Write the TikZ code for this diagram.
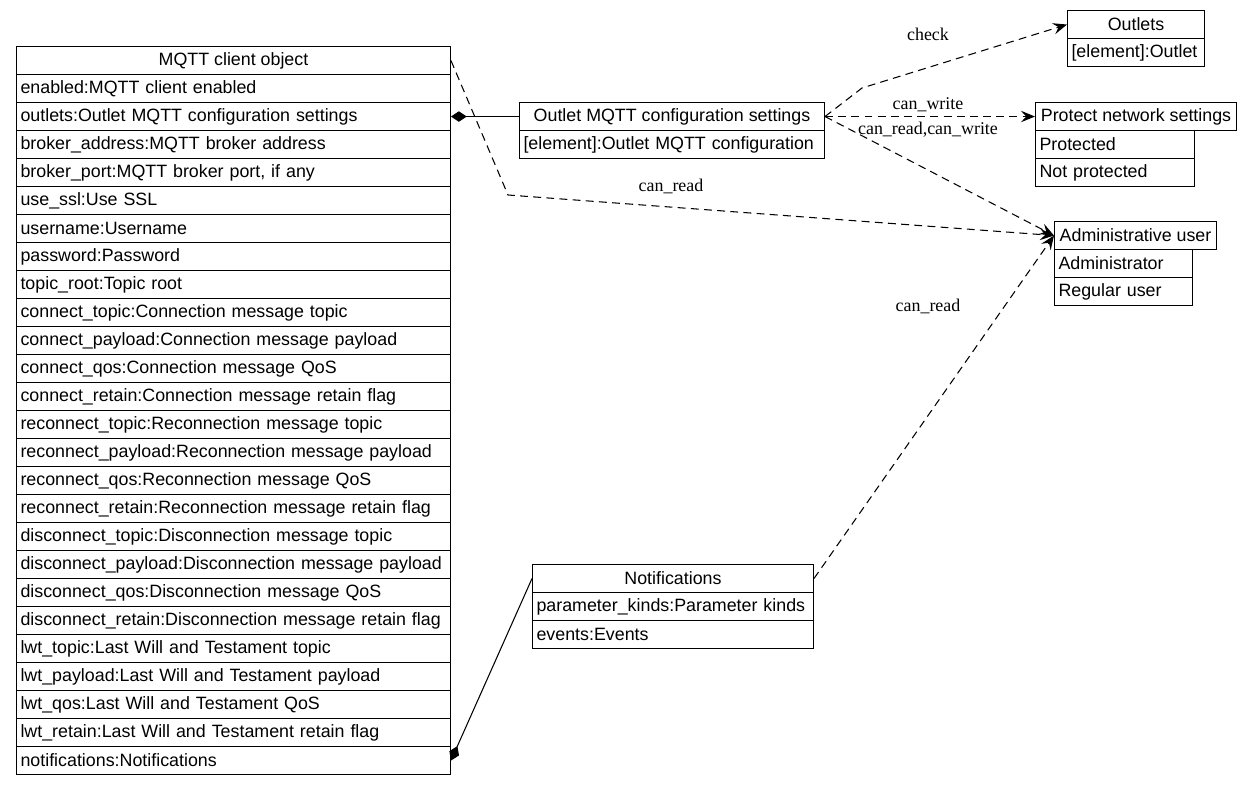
\documentclass[tikz,border=0pt]{standalone}
\usepackage{fontspec}
\setmainfont{Liberation Serif}
\setsansfont{Liberation Sans}
\usetikzlibrary{arrows.meta}
\newcommand{\umlsans}{\sffamily\fontsize{10.15pt}{12pt}\selectfont\hyphenpenalty=10000}
\newcommand{\umlserif}{\rmfamily\fontsize{10.2pt}{12pt}\selectfont}
\tikzset{
  classhead/.style={draw, line width=0.6pt, anchor=north west, minimum width=#1, minimum height=0.56cm, inner sep=0pt, font=\umlsans},
  classrow/.style={draw, line width=0.6pt, anchor=north west, text width=#1, minimum height=0.56cm, inner xsep=0.08cm, inner ysep=0pt, align=left, font=\umlsans},
  deplabel/.style={font=\umlserif, inner sep=0pt},
  dep/.style={line width=0.6pt, dash pattern=on 4.5pt off 3pt, -{Stealth[length=8pt,width=6.5pt,inset=3pt]}},
  comp/.style={line width=0.6pt, {Diamond[length=9pt,width=6pt]}-},
}
\begin{document}
\begin{tikzpicture}[x=0.02cm, y=0.02cm]
\useasboundingbox (0,0) rectangle (1252,-785);
% MQTT client object
\node [classhead=8.68cm] (client) at (16,-46) {MQTT client object};
\node [classrow=8.52cm] (client-r1) at (16,-74) {enabled:MQTT client enabled};
\node [classrow=8.52cm] (client-r2) at (16,-102) {outlets:Outlet MQTT configuration settings};
\node [classrow=8.52cm] (client-r3) at (16,-130) {broker\_address:MQTT broker address};
\node [classrow=8.52cm] (client-r4) at (16,-158) {broker\_port:MQTT broker port, if any};
\node [classrow=8.52cm] (client-r5) at (16,-186) {use\_ssl:Use SSL};
\node [classrow=8.52cm] (client-r6) at (16,-214) {username:Username};
\node [classrow=8.52cm] (client-r7) at (16,-242) {password:Password};
\node [classrow=8.52cm] (client-r8) at (16,-270) {topic\_root:Topic root};
\node [classrow=8.52cm] (client-r9) at (16,-298) {connect\_topic:Connection message topic};
\node [classrow=8.52cm] (client-r10) at (16,-326) {connect\_payload:Connection message payload};
\node [classrow=8.52cm] (client-r11) at (16,-354) {connect\_qos:Connection message QoS};
\node [classrow=8.52cm] (client-r12) at (16,-382) {connect\_retain:Connection message retain flag};
\node [classrow=8.52cm] (client-r13) at (16,-410) {reconnect\_topic:Reconnection message topic};
\node [classrow=8.52cm] (client-r14) at (16,-438) {reconnect\_payload:Reconnection message payload};
\node [classrow=8.52cm] (client-r15) at (16,-466) {reconnect\_qos:Reconnection message QoS};
\node [classrow=8.52cm] (client-r16) at (16,-494) {reconnect\_retain:Reconnection message retain flag};
\node [classrow=8.52cm] (client-r17) at (16,-522) {disconnect\_topic:Disconnection message topic};
\node [classrow=8.52cm] (client-r18) at (16,-550) {disconnect\_payload:Disconnection message payload};
\node [classrow=8.52cm] (client-r19) at (16,-578) {disconnect\_qos:Disconnection message QoS};
\node [classrow=8.52cm] (client-r20) at (16,-606) {disconnect\_retain:Disconnection message retain flag};
\node [classrow=8.52cm] (client-r21) at (16,-634) {lwt\_topic:Last Will and Testament topic};
\node [classrow=8.52cm] (client-r22) at (16,-662) {lwt\_payload:Last Will and Testament payload};
\node [classrow=8.52cm] (client-r23) at (16,-690) {lwt\_qos:Last Will and Testament QoS};
\node [classrow=8.52cm] (client-r24) at (16,-718) {lwt\_retain:Last Will and Testament retain flag};
\node [classrow=8.52cm] (client-r25) at (16,-746) {notifications:Notifications};
% Outlet MQTT configuration settings
\node [classhead=6.1cm] (cfg) at (519,-102) {Outlet MQTT configuration settings};
\node [classrow=5.94cm] (cfg-r1) at (519,-130) {[element]:Outlet MQTT configuration};
% Outlets
\node [classhead=2.74cm] (outlets) at (1067,-10) {Outlets};
\node [classrow=2.58cm] (outlets-r1) at (1067,-38) {[element]:Outlet};
% Protect network settings
\node [classhead=4.02cm] (protect) at (1035,-102) {Protect network settings};
\node [classrow=3.02cm] (protect-r1) at (1035,-130) {Protected};
\node [classrow=3.02cm] (protect-r2) at (1035,-158) {Not protected};
% Administrative user
\node [classhead=3.24cm] (admin) at (1054,-221) {Administrative user};
\node [classrow=2.6cm] (admin-r1) at (1054,-249) {Administrator};
\node [classrow=2.6cm] (admin-r2) at (1054,-277) {Regular user};
% Notifications
\node [classhead=5.62cm] (notif) at (532,-564) {Notifications};
\node [classrow=5.46cm] (notif-r1) at (532,-592) {parameter\_kinds:Parameter kinds};
\node [classrow=5.46cm] (notif-r2) at (532,-620) {events:Events};
% composition
\draw [comp] (client-r2.east) -- (cfg.west);
\draw [comp] (client-r25.east) -- (notif.west);
% dependencies
\coordinate (bend-read) at (508,-195);
\coordinate (bend-check) at (862,-88);
\draw [dep] (client.east) -- (bend-read) -- (admin.west);
\node [deplabel] (lbl-read1) at (671,-186) {can\_read};
\draw [dep] (cfg.east) -- (bend-check) -- (outlets.west);
\node [deplabel] (lbl-check) at (928,-34) {check};
\draw [dep] (cfg.east) -- (protect.west);
\node [deplabel] (lbl-write) at (928,-105) {can\_write};
\draw [dep] (cfg.east) -- (admin.west);
\node [deplabel] (lbl-readwrite) at (928,-130) {can\_read,can\_write};
\draw [dep] (notif.east) -- (admin.west);
\node [deplabel] (lbl-read2) at (928,-306) {can\_read};
\end{tikzpicture}
\end{document}
